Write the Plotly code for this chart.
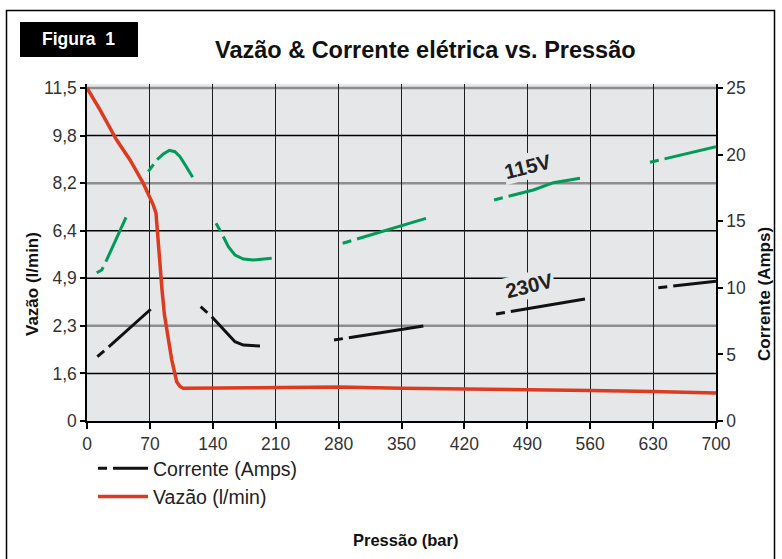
import numpy as np
import plotly.graph_objects as go

# ---- data -------------------------------------------------------------
# Pressure (bar) axis
pressure_ticks = [0, 70, 140, 210, 280, 350, 420, 490, 560, 630, 700]

# Left axis: flow (l/min) labels, evenly spaced on the chart
flow_tick_labels = ["0", "1,6", "2,3", "4,9", "6,4", "8,2", "9,8", "11,5"]
flow_tick_values = [0, 1.6, 2.3, 4.9, 6.4, 8.2, 9.8, 11.5]

# Right axis: current (A)
amps_ticks = [0, 5, 10, 15, 20, 25]

# Flow curve (Vazão, l/min) vs pressure (bar)
flow_pressure = [0, 14.5, 33, 47.9, 62.7, 68.2, 73.8, 76.8, 79.0, 81.2, 83.5,
                 86.2, 89.4, 94.3, 99.8, 103.5, 107.2, 159, 237, 280, 350,
                 420, 490, 526, 560, 630, 700]
flow_lpm = [11.5, 10.72, 9.65, 8.98, 8.19, 7.82, 7.37, 7.06, 6.09, 5.32, 4.26,
            2.89, 2.19, 1.80, 1.32, 1.16, 1.10, 1.11, 1.13, 1.14, 1.10,
            1.08, 1.05, 1.06, 1.03, 0.99, 0.94]

# Current at 115 V (A), drawn as separate segments
amps_115_pressure = [
    [10.8, 16.4, 21.9, 43.4],
    [68.2, 73.1, 77.6, 84.9, 91.6, 97.9, 103.5, 110.9, 117.6],
    [143.6, 149.9, 157.3, 164.7, 174.0, 185.0, 205.5],
    [284.5, 377.2],
    [453.0, 496.7, 519.0, 548.6],
    [626.5, 700.0],
]
amps_115 = [
    [11.13, 11.34, 12.09, 15.29],
    [18.72, 19.22, 19.60, 20.05, 20.32, 20.22, 19.85, 19.05, 18.30],
    [14.84, 14.09, 13.09, 12.46, 12.16, 12.09, 12.21],
    [13.34, 15.21],
    [16.59, 17.34, 17.89, 18.22],
    [19.42, 20.60],
]

# Current at 230 V (A), drawn as separate segments
amps_230_pressure = [
    [11.5, 23.7, 70.9],
    [126.5, 138.8, 164.7, 174.0, 192.5],
    [274.9, 374.3],
    [455.2, 554.2],
    [635.8, 700.0],
]
amps_230 = [
    [4.83, 5.53, 8.39],
    [8.58, 7.83, 5.95, 5.70, 5.63],
    [6.08, 7.13],
    [8.03, 9.16],
    [10.01, 10.50],
]

# ---- styling ------------------------------------------------------------
FONT = "Liberation Sans"
RED = "#dc3b20"
GREEN = "#009b58"
BLACK = "#111111"
PLOT_BG = "#e6e7e9"
GRID_DARK = "#1e1e1e"
GRID_LIGHT = "#8d8d8d"
LEAD_DASH = "9px,6px,800px,0px"  # short lead-in dash, then solid

W, H = 782, 559
L, R, T, B = 87, 66, 84, 138
plot_w = W - L - R
plot_h = H - T - B

def px_x(px):
    return (px - L) / plot_w

def px_y(py):
    return (H - B - py) / plot_h

# the flow axis labels are evenly spaced; place flow values between them
n_levels = len(flow_tick_values)
flow_pos = np.interp(flow_lpm, flow_tick_values, np.arange(n_levels))
y_top = (n_levels - 1) * plot_h / (plot_h - 4)
amps_top = 25 * plot_h / (plot_h - 4)

fig = go.Figure()

for xs, ys in zip(amps_115_pressure, amps_115):
    fig.add_trace(go.Scatter(
        x=xs, y=ys, yaxis="y2", mode="lines",
        line=dict(color=GREEN, width=3, dash=LEAD_DASH),
        showlegend=False, hoverinfo="skip"))

for i, (xs, ys) in enumerate(zip(amps_230_pressure, amps_230)):
    fig.add_trace(go.Scatter(
        x=xs, y=ys, yaxis="y2", mode="lines",
        line=dict(color=BLACK, width=3, dash=LEAD_DASH),
        name="Corrente (Amps)", legendgroup="amps", legendrank=1,
        showlegend=(i == 0), hoverinfo="skip"))

fig.add_trace(go.Scatter(
    x=flow_pressure, y=flow_pos, mode="lines",
    line=dict(color=RED, width=3.5),
    name="Vazão (l/min)", legendgroup="flow", legendrank=2,
    customdata=flow_lpm, hovertemplate="%{x} bar: %{customdata} l/min<extra></extra>"))

# horizontal gridlines at every flow level; three of them lighter and heavier
shapes = []
for level in range(1, n_levels):
    light = level in (2, 5, 7)
    shapes.append(dict(type="line", xref="paper", yref="y", x0=0, x1=1,
                       y0=level, y1=level, layer="between",
                       line=dict(color=GRID_LIGHT if light else "black",
                                 width=2.5 if light else 1.6)))

# outer frame
shapes.append(dict(type="rect", xref="paper", yref="paper",
                   x0=px_x(6.5), x1=px_x(774.5), y0=px_y(570), y1=px_y(10.5),
                   line=dict(color="black", width=1.5), layer="above"))
# "Figura 1" tag
shapes.append(dict(type="rect", xref="paper", yref="paper",
                   x0=px_x(20), x1=px_x(138), y0=px_y(57), y1=px_y(22),
                   fillcolor="black", line=dict(width=0)))

def note(text, x, y, size, color="#111", angle=0, **kw):
    return dict(text=text, x=x, y=y, showarrow=False, textangle=angle,
                xanchor="center", yanchor="middle",
                font=dict(family=FONT, size=size, color=color), **kw)

annotations = [
    note("<b>Figura\u00a0 1</b>", px_x(78), px_y(39), 17.5, "white",
         xref="paper", yref="paper"),
    note("<b>Vazão & Corrente elétrica vs. Pressão</b>", px_x(425), px_y(50), 23.5,
         xref="paper", yref="paper"),
    note("<b>Vazão (l/min)</b>", px_x(32), px_y(284), 17, angle=-90,
         xref="paper", yref="paper"),
    note("<b>Corrente (Amps)</b>", px_x(764), px_y(294), 17, angle=-90,
         xref="paper", yref="paper"),
    note("<b>Pressão (bar)</b>", px_x(405), px_y(540), 16.5,
         xref="paper", yref="paper"),
    note("<b>115V</b>", 489.7, 19.14, 20.5, "#222", angle=-14,
         xref="x", yref="y2", bgcolor=PLOT_BG, borderpad=1),
    note("<b>230V</b>", 491.9, 10.21, 20.5, "#222", angle=-14,
         xref="x", yref="y2", bgcolor=PLOT_BG, borderpad=1),
]

tick_font = dict(family=FONT, size=17.5, color="#333")

fig.update_layout(
    width=W, height=H,
    margin=dict(l=L, r=R, t=T, b=B, pad=0),
    paper_bgcolor="white", plot_bgcolor=PLOT_BG,
    font=dict(family=FONT, size=16, color="#333"),
    shapes=shapes, annotations=annotations,
    legend=dict(x=px_x(93), y=px_y(449), xanchor="left", yanchor="top",
                bgcolor="rgba(0,0,0,0)", font=dict(family=FONT, size=19.5, color="#222"),
                tracegroupgap=0, itemwidth=50),
    xaxis=dict(range=[0, 700], tickvals=pressure_ticks,
               ticks="outside", ticklen=6, tickcolor="black", tickwidth=1.5,
               showline=True, linecolor="black", linewidth=1.5,
               showgrid=True, gridcolor=GRID_DARK, gridwidth=1.3,
               zeroline=False, tickfont=tick_font),
    yaxis=dict(range=[0, y_top], tickvals=list(range(n_levels)),
               ticktext=flow_tick_labels,
               ticks="outside", ticklen=5, tickcolor="black", tickwidth=1.5,
               showline=True, linecolor="black", linewidth=1.5,
               showgrid=False, zeroline=False, tickfont=tick_font),
    yaxis2=dict(range=[0, amps_top], tickvals=amps_ticks, overlaying="y", side="right",
                ticks="outside", ticklen=5, tickcolor="black", tickwidth=1.5,
                showline=True, linecolor="black", linewidth=1.5,
                showgrid=False, zeroline=False, tickfont=tick_font),
)

fig.write_html("out.html")
